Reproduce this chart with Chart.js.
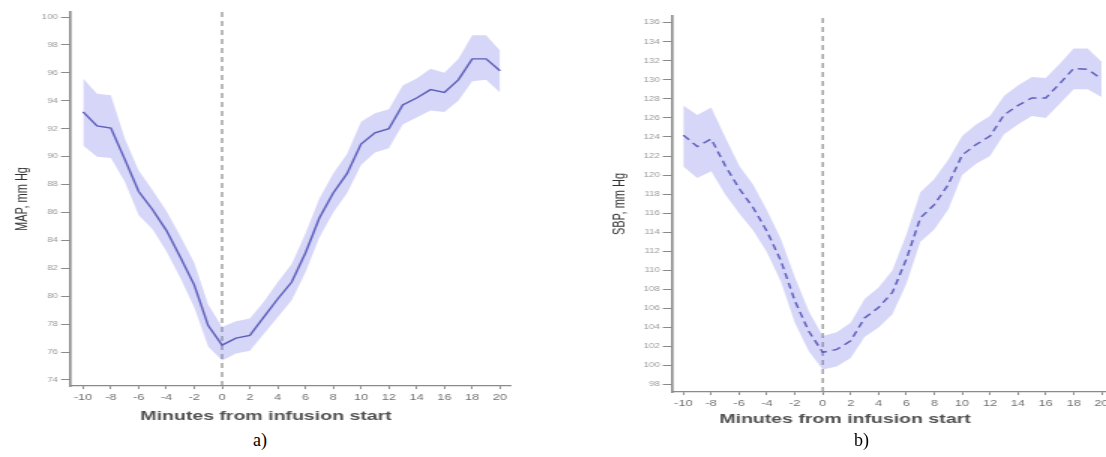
<!DOCTYPE html>
<html>
<head>
<meta charset="utf-8">
<script src="https://cdn.jsdelivr.net/npm/chart.js@4.4.1/dist/chart.umd.min.js"></script>
<style>
    html, body { margin: 0; padding: 0; background: #fff; width: 1106px; height: 457px; overflow: hidden; position: relative; }
    /* the source figure is stretched sideways, so each canvas is too */
    canvas { position: absolute; top: 0; transform: scaleX(1.5); transform-origin: 0 0; }
    #mapChart { left: 0; }
    #sbpChart { left: 581px; }
    .panel { position: absolute; top: 431px; font-family: 'Liberation Serif', 'Times New Roman', serif; font-size: 18px; line-height: 1; color: #000; }
</style>
</head>
<body>
<canvas id="mapChart" width="360" height="430"></canvas>
<canvas id="sbpChart" width="350" height="434"></canvas>
<div class="panel" style="left: 253px;">a)</div>
<div class="panel" style="left: 854px;">b)</div>

<script>
// Минуты от начала инфузии
const minutes = [-10, -9, -8, -7, -6, -5, -4, -3, -2, -1, 0, 1, 2, 3, 4, 5, 6, 7, 8, 9, 10, 11, 12, 13, 14, 15, 16, 17, 18, 19, 20];
const minuteTicks = [-10, -8, -6, -4, -2, 0, 2, 4, 6, 8, 10, 12, 14, 16, 18, 20];

// a) MAP, mm Hg
const mapMean  = [93.2, 92.2, 92.05, 89.8, 87.5, 86.2, 84.7, 82.8, 80.8, 77.9, 76.5, 77.0, 77.2, 78.5, 79.8, 81.0, 83.1, 85.6, 87.4, 88.8, 90.9, 91.7, 92.0, 93.7, 94.2, 94.8, 94.6, 95.5, 97.0, 97.0, 96.15];
const mapUpper = [95.6, 94.5, 94.4, 91.3, 89.0, 87.6, 86.1, 84.3, 82.4, 79.4, 77.8, 78.2, 78.4, 79.6, 81.0, 82.3, 84.5, 87.0, 88.8, 90.2, 92.5, 93.1, 93.4, 95.1, 95.6, 96.3, 96.0, 97.0, 98.7, 98.7, 97.6];
const mapLower = [90.8, 90.0, 89.9, 88.2, 85.8, 84.8, 83.2, 81.3, 79.2, 76.4, 75.4, 75.9, 76.1, 77.3, 78.5, 79.7, 81.7, 84.2, 86.0, 87.4, 89.4, 90.3, 90.6, 92.3, 92.8, 93.3, 93.2, 94.0, 95.4, 95.5, 94.6];
const mapTicks = [74, 76, 78, 80, 82, 84, 86, 88, 90, 92, 94, 96, 98, 100];

// b) SBP, mm Hg
const sbpMean  = [124.2, 123.0, 123.8, 121.0, 118.6, 116.6, 114.1, 111.0, 106.8, 103.6, 101.4, 101.7, 102.6, 105.0, 106.1, 107.7, 111.2, 115.5, 116.9, 119.0, 122.1, 123.2, 124.1, 126.3, 127.3, 128.1, 128.1, 129.6, 131.2, 131.1, 130.1];
const sbpUpper = [127.3, 126.3, 127.1, 124.0, 121.0, 119.0, 116.3, 113.3, 109.3, 105.7, 103.1, 103.5, 104.5, 107.0, 108.2, 110.0, 113.8, 118.2, 119.6, 121.6, 124.1, 125.3, 126.2, 128.3, 129.4, 130.3, 130.2, 131.7, 133.3, 133.3, 131.9];
const sbpLower = [120.9, 119.7, 120.4, 118.0, 116.0, 114.2, 111.9, 108.8, 104.5, 101.5, 99.6, 99.9, 100.8, 103.0, 104.0, 105.4, 108.6, 113.0, 114.3, 116.4, 120.0, 121.2, 122.0, 124.3, 125.3, 126.2, 126.0, 127.5, 129.0, 129.0, 128.2];
const sbpTicks = [98, 100, 102, 104, 106, 108, 110, 112, 114, 116, 118, 120, 122, 124, 126, 128, 130, 132, 134, 136];

Chart.defaults.font.family = "'Liberation Sans', Arial, sans-serif";

const LINE_COLOR = '#5252aa';
const BAND_COLOR = 'rgba(120, 120, 232, 0.3)';
const AXIS_COLOR = '#8a8a8a';

const toPoints = (values) => minutes.map((m, i) => ({ x: m, y: values[i] }));

function createChart(canvasId, c) {
    return new Chart(document.getElementById(canvasId), {
        type: 'line',
        data: {
            datasets: [{
                data: toPoints(c.upper),
                borderWidth: 0,
                pointRadius: 0,
                backgroundColor: BAND_COLOR,
                fill: '+1'
            }, {
                data: toPoints(c.lower),
                borderWidth: 0,
                pointRadius: 0,
                fill: false
            }, {
                data: toPoints(c.mean),
                borderColor: LINE_COLOR,
                borderWidth: 1.4,
                borderDash: c.dashed ? [6, 4] : [],
                pointRadius: 0,
                fill: false
            }, {
                // начало инфузии
                data: [{ x: 0, y: c.yMin }, { x: 0, y: c.yMax }],
                borderColor: '#8c8c8c',
                borderWidth: 1.2,
                borderDash: [5, 4],
                pointRadius: 0,
                fill: false
            }]
        },
        options: {
            responsive: false,
            animation: false,
            layout: { padding: c.pad },
            plugins: {
                legend: { display: false },
                tooltip: { enabled: false },
                title: {
                    display: true,
                    position: 'bottom',
                    text: 'Minutes from infusion start',
                    color: '#505050',
                    font: { size: 13, weight: 'bold' },
                    padding: { top: c.titleTop, bottom: 2 }
                }
            },
            scales: {
                x: {
                    type: 'linear',
                    min: c.xMin,
                    max: c.xMax,
                    afterBuildTicks: s => { s.ticks = minuteTicks.map(v => ({ value: v })); },
                    afterFit: s => { s.height = c.xHeight; s.paddingLeft = 0; s.paddingRight = 0; },
                    ticks: { color: '#707070', font: { size: 8.5 }, padding: 4, maxRotation: 0, autoSkip: false },
                    grid: { drawOnChartArea: false, drawTicks: true, tickLength: 3, color: AXIS_COLOR },
                    border: { color: AXIS_COLOR, width: 1.2 }
                },
                y: {
                    min: c.yMin,
                    max: c.yMax,
                    afterBuildTicks: s => { s.ticks = c.yTicks.map(v => ({ value: v })); },
                    afterFit: s => { s.width = c.yWidth; s.paddingTop = 0; s.paddingBottom = 0; },
                    ticks: { color: '#9a9a9a', font: { size: 6.5 }, padding: 2, autoSkip: false },
                    grid: { drawOnChartArea: false, drawTicks: true, tickLength: 6, color: AXIS_COLOR },
                    border: { color: AXIS_COLOR, width: 1.6 },
                    title: {
                        display: true,
                        text: c.yLabel,
                        color: '#333',
                        font: { size: 11 },
                        padding: { top: c.yTitlePad, bottom: 0 }
                    }
                }
            }
        }
    });
}

createChart('mapChart', {
    mean: mapMean, upper: mapUpper, lower: mapLower, dashed: false,
    yLabel: 'MAP, mm Hg', yTicks: mapTicks,
    yMin: 73.57, yMax: 100.36, xMin: -10.94, xMax: 20.72,
    pad: { left: 14.7, top: 12, right: 20, bottom: 3.4 },
    yWidth: 32, yTitlePad: -6.6, xHeight: 20, titleTop: 3
});

createChart('sbpChart', {
    mean: sbpMean, upper: sbpUpper, lower: sbpLower, dashed: true,
    yLabel: 'SBP, mm Hg', yTicks: sbpTicks,
    yMin: 97.23, yMax: 136.7, xMin: -10.83, xMax: 20.32,
    pad: { left: 2, top: 16, right: 0, bottom: 4.4 },
    yWidth: 58.5, yTitlePad: 17.4, xHeight: 18, titleTop: 2
});
</script>
</body>
</html>
